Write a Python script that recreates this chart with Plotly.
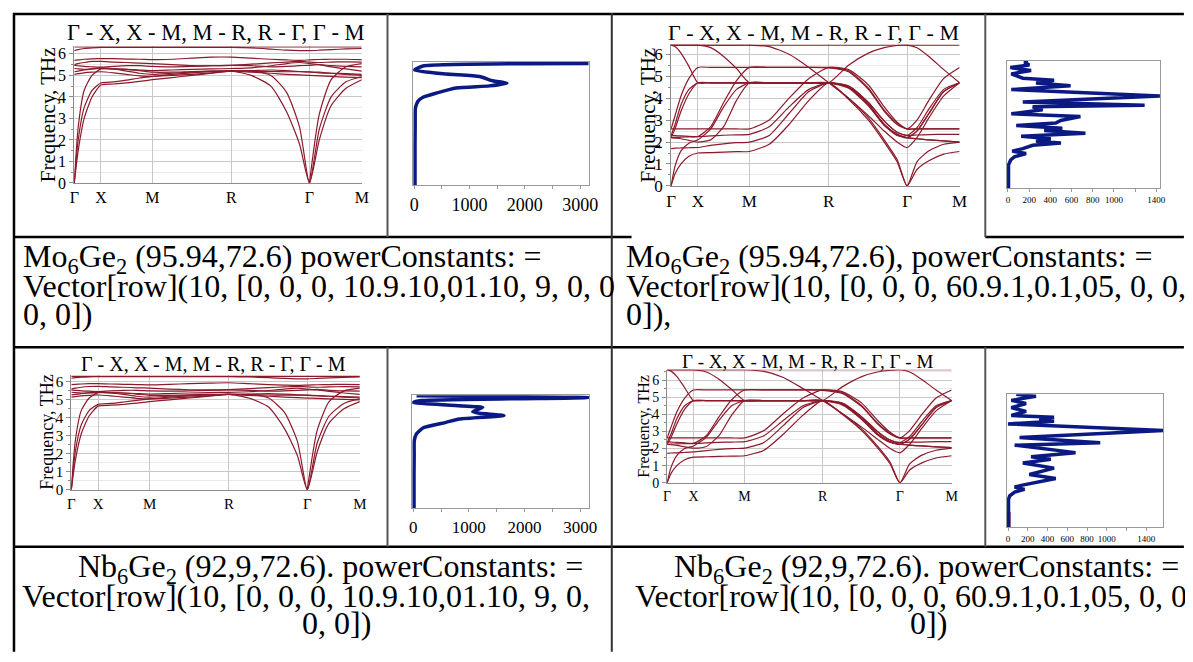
import plotly.graph_objects as go

W, H = 1193, 662          # browser window
OFF = 8                   # default page margin around the figure
FW, FH = W - 2 * OFF, H - 2 * OFF
FONT = "Liberation Serif"
BAND_COLOR = "#8b1a2b"
DOS_COLOR = "#0b1a82"

# ---------------- path (high-symmetry points) ----------------
PATH = [0, 4, 10, 18, 27, 40, 53, 66, 79, 99, 119, 139, 159, 179, 199, 215, 228, 238, 248, 260, 275, 291]
SYM_POS = [0, 27, 79, 159, 238, 291]
SYM_LABELS = ["Γ", "X", "M", "R", "Γ", "M"]
TITLE = "Γ - X, X - M, M - R, R - Γ, Γ - M"
YTITLE = "Frequency, THz"

# ---------------- panel A: Mo6Ge2, powerConstants 1 ----------------
A_TA1 = [0, 1.5, 3.0, 4.0, 4.55, 4.6, 4.65, 4.72, 4.8, 4.9, 5.0, 5.1, 5.2, 5.0, 4.5, 3.3, 1.8, 0, 2.0, 3.6, 4.4, 4.8]
A_TA2 = [0, 2.0, 3.5, 4.3, 4.65, 4.7, 4.78, 4.88, 4.95, 5.05, 5.12, 5.17, 5.2, 5.2, 5.0, 4.2, 2.6, 0, 2.5, 4.0, 4.7, 4.95]
A_LA = [0, 2.6, 4.3, 5.0, 5.3, 5.3, 5.28, 5.22, 5.15, 5.15, 5.18, 5.2, 5.2, 5.22, 5.25, 5.22, 5.18, 5.15, 5.12, 5.1, 5.08, 5.05]
A_LA2 = [None, None, None, None, None, None, None, None, None, None, None, None, None, None, None, None, None, 0, 3.2, 4.8, 5.4, 5.55]
A_O1 = [6.32, 6.32, 6.32, 6.32, 6.32, 6.32, 6.32, 6.32, 6.32, 6.32, 6.32, 6.32, 6.32, 6.32, 6.32, 6.32, 6.32, 6.32, 6.32, 6.32, 6.32, 6.32]
A_O2 = [6.15, 6.2, 6.25, 6.28, 6.3, 6.3, 6.3, 6.3, 6.3, 6.3, 6.3, 6.3, 6.3, 6.28, 6.22, 6.17, 6.15, 6.15, 6.17, 6.2, 6.23, 6.25]
A_O3 = [5.7, 5.72, 5.75, 5.77, 5.78, 5.78, 5.76, 5.75, 5.73, 5.75, 5.8, 5.85, 5.85, 5.8, 5.75, 5.72, 5.7, 5.72, 5.74, 5.75, 5.75, 5.73]
A_O4 = [5.5, 5.55, 5.6, 5.65, 5.65, 5.62, 5.6, 5.57, 5.55, 5.5, 5.45, 5.45, 5.47, 5.52, 5.58, 5.62, 5.65, 5.62, 5.6, 5.62, 5.63, 5.62]
A_O5 = [5.47, 5.45, 5.42, 5.4, 5.38, 5.42, 5.45, 5.45, 5.42, 5.4, 5.42, 5.45, 5.47, 5.45, 5.4, 5.42, 5.45, 5.47, 5.5, 5.45, 5.42, 5.4]
A_O6 = [5.32, 5.3, 5.28, 5.3, 5.32, 5.3, 5.28, 5.25, 5.22, 5.25, 5.28, 5.3, 5.32, 5.35, 5.45, 5.55, 5.6, 5.55, 5.5, 5.4, 5.3, 5.2]
A_O7 = [5.17, 5.2, 5.25, 5.3, 5.35, 5.3, 5.2, 5.1, 5.05, 5.1, 5.15, 5.2, 5.22, 5.2, 5.18, 5.17, 5.17, 5.17, 5.15, 5.1, 5.05, 5.0]
A_O8 = [5.05, 5.08, 5.12, 5.15, 5.17, 5.12, 5.05, 4.98, 4.95, 5.0, 5.05, 5.12, 5.2, 5.15, 5.1, 5.05, 5.02, 5.0, 4.98, 4.95, 4.92, 4.9]

# ---------------- panel B: Nb6Ge2, powerConstants 1 ----------------
B_TA1 = [0, 1.6, 3.1, 4.1, 4.65, 4.7, 4.75, 4.82, 4.9, 5.0, 5.1, 5.2, 5.3, 5.1, 4.6, 3.4, 1.9, 0, 2.1, 3.7, 4.5, 4.9]
B_TA2 = [0, 2.1, 3.6, 4.4, 4.75, 4.8, 4.88, 4.97, 5.05, 5.15, 5.22, 5.27, 5.3, 5.3, 5.1, 4.3, 2.7, 0, 2.6, 4.1, 4.8, 5.05]
B_LA = [0, 2.7, 4.4, 5.1, 5.4, 5.4, 5.38, 5.32, 5.25, 5.25, 5.28, 5.3, 5.3, 5.32, 5.35, 5.32, 5.28, 5.25, 5.22, 5.2, 5.18, 5.15]
B_LA2 = [None, None, None, None, None, None, None, None, None, None, None, None, None, None, None, None, None, 0, 3.3, 4.9, 5.5, 5.65]
B_O1 = [6.3, 6.3, 6.3, 6.3, 6.3, 6.3, 6.3, 6.3, 6.3, 6.3, 6.3, 6.3, 6.3, 6.3, 6.3, 6.3, 6.3, 6.3, 6.3, 6.3, 6.3, 6.3]
B_O2 = [6.2, 6.23, 6.26, 6.28, 6.29, 6.29, 6.29, 6.29, 6.29, 6.29, 6.29, 6.29, 6.29, 6.27, 6.23, 6.19, 6.17, 6.17, 6.19, 6.22, 6.25, 6.27]
B_O3 = [5.85, 5.86, 5.88, 5.9, 5.9, 5.88, 5.86, 5.85, 5.83, 5.86, 5.9, 5.93, 5.95, 5.9, 5.85, 5.82, 5.8, 5.82, 5.84, 5.85, 5.86, 5.85]
B_O4 = [5.6, 5.65, 5.7, 5.74, 5.75, 5.72, 5.7, 5.67, 5.65, 5.6, 5.56, 5.55, 5.57, 5.62, 5.68, 5.72, 5.75, 5.72, 5.7, 5.72, 5.73, 5.72]
B_O5 = [5.55, 5.53, 5.5, 5.48, 5.46, 5.5, 5.53, 5.53, 5.5, 5.48, 5.5, 5.53, 5.55, 5.53, 5.48, 5.5, 5.53, 5.55, 5.58, 5.53, 5.5, 5.48]
B_O6 = [5.42, 5.4, 5.38, 5.4, 5.42, 5.4, 5.38, 5.35, 5.32, 5.35, 5.38, 5.4, 5.42, 5.45, 5.52, 5.6, 5.65, 5.6, 5.55, 5.47, 5.38, 5.3]
B_O7 = [5.28, 5.3, 5.34, 5.38, 5.42, 5.38, 5.3, 5.2, 5.15, 5.2, 5.25, 5.28, 5.3, 5.28, 5.27, 5.26, 5.26, 5.26, 5.24, 5.2, 5.15, 5.1]
B_O8 = [5.15, 5.18, 5.22, 5.25, 5.27, 5.22, 5.15, 5.08, 5.05, 5.1, 5.15, 5.22, 5.3, 5.25, 5.2, 5.15, 5.12, 5.1, 5.08, 5.05, 5.02, 5.0]

# ---------------- panel C: Mo6Ge2, powerConstants 2 ----------------
C1 = [6.42, 6.42, 6.42, 6.42, 6.42, 6.42, 6.42, 6.42, 6.42, 6.42, 6.42, 6.42, 6.42, 6.42, 6.42, 6.42, 6.42, 6.42, 6.42, 6.42, 6.42, 6.42]
C2 = [6.42, 6.35, 6.05, 5.45, 4.7, 4.7, 4.7, 4.7, 4.7, 4.7, 4.7, 4.7, 4.7, 5.5, 6.05, 6.3, 6.4, 6.42, 6.3, 5.9, 5.3, 4.7]
C3 = [6.42, 6.42, 6.42, 6.42, 6.42, 6.3, 5.9, 5.35, 4.7, 4.7, 4.7, 4.7, 4.7, 4.5, 3.7, 2.8, 2.35, 2.2, 2.5, 3.3, 4.3, 4.7]
C4 = [2.3, 2.8, 3.7, 4.4, 4.7, 4.7, 4.7, 4.7, 4.7, 4.7, 4.7, 4.7, 4.7, 4.55, 3.8, 2.95, 2.45, 2.3, 2.65, 3.5, 4.4, 4.7]
C5 = [6.42, 6.42, 6.42, 6.42, 6.42, 6.42, 6.42, 6.42, 6.42, 6.35, 6.0, 5.4, 4.7, 4.0, 3.2, 2.5, 2.0, 1.75, 2.2, 3.1, 4.1, 4.7]
C6 = [0, 0.55, 1.0, 1.35, 1.5, 1.52, 1.54, 1.56, 1.57, 1.9, 2.8, 3.9, 4.7, 3.95, 3.0, 2.0, 1.1, 0, 0.75, 1.15, 1.45, 1.57]
C7 = [0, 0.9, 1.6, 1.95, 2.1, 2.6, 3.6, 4.4, 4.7, 4.7, 4.7, 4.7, 4.7, 4.45, 3.65, 2.75, 2.3, 2.2, 2.15, 2.1, 2.05, 2.0]
C8 = [1.7, 1.72, 1.73, 1.74, 1.75, 1.85, 1.92, 1.97, 2.0, 2.3, 3.3, 4.3, 4.7, 4.55, 3.8, 2.95, 2.45, 2.3, 2.32, 2.34, 2.35, 2.35]
C9 = [2.2, 2.18, 2.15, 2.08, 2.0, 2.1, 2.7, 3.9, 4.7, 4.7, 4.7, 4.7, 4.7, 4.0, 3.1, 2.1, 1.2, 0, 1.1, 1.6, 1.9, 2.0]
C10 = [2.6, 3.2, 4.1, 4.9, 5.4, 5.4, 5.4, 5.4, 5.4, 5.4, 5.4, 5.4, 5.38, 5.2, 4.4, 3.4, 2.8, 2.6, 3.0, 3.9, 4.9, 5.4]
C11 = [2.6, 2.6, 2.6, 2.6, 2.6, 2.6, 2.6, 2.6, 2.6, 3.0, 4.0, 4.9, 5.4, 5.3, 4.6, 3.6, 2.9, 2.6, 2.6, 2.6, 2.6, 2.6]
C12 = [2.2, 2.6, 3.4, 4.2, 4.7, 4.7, 4.7, 4.7, 4.7, 4.7, 4.7, 4.7, 4.7, 4.5, 3.7, 2.8, 2.35, 2.2, 2.5, 3.3, 4.3, 4.7]
C13 = [2.3, 2.29, 2.28, 2.26, 2.25, 2.28, 2.31, 2.33, 2.35, 2.7, 3.6, 4.4, 4.7, 4.5, 3.7, 2.8, 2.35, 2.2, 2.15, 2.1, 2.05, 2.0]
C14 = [2.2, 2.21, 2.22, 2.24, 2.25, 2.7, 3.8, 4.8, 5.4, 5.4, 5.4, 5.4, 5.4, 5.25, 4.45, 3.45, 2.85, 2.6, 2.6, 2.6, 2.6, 2.6]

# ---------------- panel D: Nb6Ge2, powerConstants 2 ----------------
D1 = [6.6, 6.6, 6.6, 6.6, 6.6, 6.6, 6.6, 6.6, 6.6, 6.6, 6.6, 6.6, 6.6, 6.6, 6.6, 6.6, 6.6, 6.6, 6.6, 6.6, 6.6, 6.6]
D2 = [6.6, 6.52, 6.2, 5.55, 4.8, 4.8, 4.8, 4.8, 4.8, 4.8, 4.8, 4.8, 4.8, 5.6, 6.2, 6.47, 6.57, 6.6, 6.47, 6.05, 5.42, 4.8]
D3 = [6.6, 6.6, 6.6, 6.6, 6.6, 6.47, 6.05, 5.45, 4.8, 4.8, 4.8, 4.8, 4.8, 4.6, 3.75, 2.85, 2.4, 2.25, 2.55, 3.35, 4.4, 4.8]
D4 = [2.35, 2.85, 3.75, 4.5, 4.8, 4.8, 4.8, 4.8, 4.8, 4.8, 4.8, 4.8, 4.8, 4.65, 3.85, 3.0, 2.5, 2.35, 2.7, 3.55, 4.5, 4.8]
D5 = [6.6, 6.6, 6.6, 6.6, 6.6, 6.6, 6.6, 6.6, 6.6, 6.5, 6.15, 5.5, 4.8, 4.05, 3.25, 2.55, 2.0, 1.75, 2.25, 3.15, 4.2, 4.8]
D6 = [0, 0.55, 1.0, 1.35, 1.5, 1.52, 1.54, 1.56, 1.58, 1.9, 2.85, 3.95, 4.8, 4.0, 3.05, 2.05, 1.1, 0, 0.75, 1.15, 1.45, 1.58]
D7 = [0, 0.9, 1.6, 2.0, 2.15, 2.65, 3.65, 4.5, 4.8, 4.8, 4.8, 4.8, 4.8, 4.55, 3.7, 2.8, 2.35, 2.25, 2.2, 2.15, 2.1, 2.05]
D8 = [1.72, 1.74, 1.75, 1.77, 1.8, 1.88, 1.95, 2.0, 2.02, 2.35, 3.35, 4.4, 4.8, 4.65, 3.85, 3.0, 2.5, 2.35, 2.37, 2.38, 2.4, 2.4]
D9 = [2.25, 2.22, 2.18, 2.1, 2.02, 2.12, 2.75, 3.95, 4.8, 4.8, 4.8, 4.8, 4.8, 4.05, 3.15, 2.15, 1.2, 0, 1.1, 1.6, 1.9, 2.02]
D10 = [2.62, 3.25, 4.15, 4.95, 5.42, 5.42, 5.42, 5.42, 5.42, 5.42, 5.42, 5.42, 5.4, 5.22, 4.45, 3.45, 2.85, 2.62, 3.05, 3.95, 4.95, 5.42]
D11 = [2.62, 2.62, 2.62, 2.62, 2.62, 2.62, 2.62, 2.62, 2.62, 3.05, 4.05, 4.95, 5.42, 5.32, 4.65, 3.65, 2.95, 2.62, 2.62, 2.62, 2.62, 2.62]
D12 = [2.25, 2.65, 3.45, 4.3, 4.8, 4.8, 4.8, 4.8, 4.8, 4.8, 4.8, 4.8, 4.8, 4.6, 3.75, 2.85, 2.4, 2.25, 2.55, 3.35, 4.4, 4.8]
D13 = [2.4, 2.38, 2.36, 2.33, 2.3, 2.33, 2.36, 2.38, 2.4, 2.75, 3.65, 4.5, 4.8, 4.6, 3.75, 2.85, 2.4, 2.25, 2.2, 2.15, 2.1, 2.05]
D14 = [2.25, 2.26, 2.27, 2.29, 2.3, 2.75, 3.85, 4.85, 5.42, 5.42, 5.42, 5.42, 5.42, 5.27, 4.5, 3.5, 2.9, 2.62, 2.62, 2.62, 2.62, 2.62]

# ---------------- phonon DOS (frequency THz, states) ----------------
DOS_A_F = [0, 1.0, 2.0, 3.0, 3.87, 4.04, 4.3, 4.5, 4.71, 4.97, 5.08, 5.22, 5.34, 5.56, 5.69, 5.89, 6.1, 6.23]
DOS_A_V = [15, 15, 15, 18, 20, 30, 70, 160, 400, 760, 1360, 1675, 1420, 1180, 580, 0, 160, 3150]
DOS_B_F = [0, 1.0, 2.0, 3.0, 3.85, 4.22, 4.56, 4.87, 5.06, 5.25, 5.38, 5.47, 5.71, 5.8, 5.99, 6.1, 6.27, 6.37]
DOS_B_V = [15, 15, 15, 18, 20, 60, 180, 590, 830, 1630, 1190, 1070, 1250, 890, 0, 150, 3150, 60]
DOS_C_F = [0, 1.17, 1.42, 1.58, 1.75, 1.87, 2.0, 2.17, 2.28, 2.37, 2.5, 2.63, 2.78, 2.92, 3.03, 3.17, 3.3, 3.43,
           3.63, 3.77, 3.97, 4.13, 4.2, 4.37, 4.67, 5.0, 5.2, 5.33, 5.47, 5.58, 5.8, 5.97, 6.12, 6.25, 6.37, 6.45]
DOS_C_V = [5, 5, 25, 60, 171, 40, 140, 233, 500, 265, 404, 124, 731, 342, 513, 78, 451, 498,
           684, 31, 327, 233, 1290, 140, 1434, 31, 591, 265, 435, 140, 31, 218, 22, 202, 155, 187]
DOS_D_F = [0, 1.38, 1.55, 1.74, 1.87, 1.99, 2.07, 2.2, 2.41, 2.61, 2.93, 3.18, 3.37, 3.5, 3.7, 4.07, 4.19, 4.45,
           4.8, 5.13, 5.26, 5.36, 5.46, 5.55, 5.75, 5.94, 6.14, 6.3, 6.5, 6.6]
DOS_D_V = [5, 5, 17, 67, 167, 67, 133, 266, 483, 216, 466, 150, 433, 233, 683, 67, 933, 117,
           1573, 0, 466, 316, 466, 33, 183, 33, 183, 33, 283, 83]
DOS_D_LOW_F = [0, 0.75]
DOS_D_LOW_V = [0, 0]

# ---------------- caption texts ----------------
TEXT_R1_L = ["Mo<sub>6</sub>Ge<sub>2</sub> (95.94,72.6) powerConstants: =",
             "Vector[row](10, [0, 0, 0, 10.9.10,01.10, 9, 0, 0",
             "0, 0])"]
TEXT_R1_R = ["Mo<sub>6</sub>Ge<sub>2</sub> (95.94,72.6), powerConstants: =",
             "Vector[row](10, [0, 0, 0, 60.9.1,0.1,05, 0, 0,",
             "0]),"]
TEXT_R2_L = ["Nb<sub>6</sub>Ge<sub>2</sub> (92,9,72.6). powerConstants: =",
             "Vector[row](10, [0, 0, 0, 10.9.10,01.10, 9, 0,",
             "0, 0])"]
TEXT_R2_R = ["Nb<sub>6</sub>Ge<sub>2</sub> (92,9,72.6). powerConstants: =",
             "Vector[row](10, [0, 0, 0, 60.9.1,0.1,05, 0, 0,",
             "0])"]


# page pixel -> figure paper coordinates
def px_x(v):
    return (v - OFF) / FW


def px_y(v):
    return 1 - (v - OFF) / FH


def xd(a, b):
    return [px_x(a), px_x(b)]


def yd(top, bottom):
    return [px_y(bottom), px_y(top)]


fig = go.Figure()
layout = dict(width=FW, height=FH, margin=dict(l=0, r=0, t=0, b=0),
              paper_bgcolor="white", plot_bgcolor="white", showlegend=False)
annotations = []
shapes = []

band_panels = [
    # (axis idx, branches, x px, y px, ymax, tick font, title y, title font, ytitle x, ytitle font)
    (1, [A_TA1, A_TA2, A_LA, A_LA2, A_O1, A_O2, A_O3, A_O4, A_O5, A_O6, A_O7, A_O8],
     (70, 361), (46, 185), 6.35, 16, 32, 22.5, 43, 21),
    (3, [C1, C2, C3, C4, C5, C6, C7, C8, C9, C10, C11, C12, C13, C14],
     (674, 966), (44, 188), 6.45, 17, 32, 22, 651, 21),
    (5, [B_TA1, B_TA2, B_LA, B_LA2, B_O1, B_O2, B_O3, B_O4, B_O5, B_O6, B_O7, B_O8],
     (67, 359), (380, 497), 6.4, 15, 369, 20, 43, 18),
    (7, [D1, D2, D3, D4, D5, D6, D7, D8, D9, D10, D11, D12, D13, D14],
     (670, 958), (375, 490), 6.6, 14, 367, 19, 647, 16),
]

for idx, branches, xpx, ypx, ymax, tfs, ty, tf, ytx, ytf in band_panels:
    for br in branches:
        fig.add_trace(go.Scatter(x=PATH, y=br, mode="lines",
                                 line=dict(color=BAND_COLOR, width=1.2, shape="spline", smoothing=0.6),
                                 connectgaps=False, hoverinfo="skip",
                                 xaxis=f"x{idx}", yaxis=f"y{idx}"))
    layout[f"xaxis{idx}"] = dict(domain=xd(*xpx), anchor=f"y{idx}", range=[0, 291],
                                 tickvals=SYM_POS, ticktext=SYM_LABELS, ticks="",
                                 showgrid=True, gridcolor="#c8c8c8", gridwidth=1,
                                 showline=True, linecolor="#8c8c8c", linewidth=1, zeroline=False,
                                 tickfont=dict(family=FONT, size=tfs, color="black"))
    layout[f"yaxis{idx}"] = dict(domain=yd(*ypx), anchor=f"x{idx}", range=[0, ymax],
                                 tick0=0, dtick=1, ticks="outside", ticklen=4, tickcolor="#8c8c8c",
                                 showgrid=True, gridcolor="#c8c8c8", gridwidth=1,
                                 minor=dict(dtick=0.5, showgrid=True, gridcolor="#e9e9e9",
                                            ticks="outside", ticklen=2, tickcolor="#8c8c8c"),
                                 showline=True, linecolor="#8c8c8c", linewidth=1, zeroline=False,
                                 tickfont=dict(family=FONT, size=tfs, color="black"))
    annotations.append(dict(text=TITLE, x=px_x((xpx[0] + xpx[1]) / 2 - 2), y=px_y(ty),
                            xref="paper", yref="paper", showarrow=False,
                            xanchor="center", yanchor="middle",
                            font=dict(family=FONT, size=tf, color="black")))
    annotations.append(dict(text=YTITLE, x=px_x(ytx), y=px_y((ypx[0] + ypx[1]) / 2),
                            xref="paper", yref="paper", showarrow=False, textangle=-90,
                            xanchor="center", yanchor="middle",
                            font=dict(family=FONT, size=ytf, color="black")))

dos_panels = [
    (2, DOS_A_F, DOS_A_V, (413, 591), (62, 187), [-18, 3160], 6.3,
     [0, 1000, 2000, 3000], [500, 1500, 2500], 18, "spline"),
    (6, DOS_B_F, DOS_B_V, (412, 591), (401, 516), [-18, 3160], 6.4,
     [0, 1000, 2000, 3000], [500, 1500, 2500], 17, "spline"),
    (4, DOS_C_F, DOS_C_V, (1014, 1169), (61, 190), [-9, 1437], 6.45,
     [0, 200, 400, 600, 800, 1000, 1400], [1200], 9, "linear"),
    (8, DOS_D_F, DOS_D_V, (1014, 1172), (400, 535), [-10, 1570], 6.6,
     [0, 200, 400, 600, 800, 1000, 1400], [1200], 9, "linear"),
]

for idx, fr, vals, xpx, ypx, xr, ymax, tv, mtv, fs, shp in dos_panels:
    if idx == 8:
        fig.add_trace(go.Scatter(x=DOS_D_LOW_V, y=DOS_D_LOW_F, mode="lines",
                                 line=dict(color="#7a0a14", width=5), hoverinfo="skip",
                                 xaxis=f"x{idx}", yaxis=f"y{idx}"))
    fig.add_trace(go.Scatter(x=vals, y=fr, mode="lines",
                             line=dict(color=DOS_COLOR, width=3.5, shape=shp, smoothing=0.5),
                             hoverinfo="skip", xaxis=f"x{idx}", yaxis=f"y{idx}"))
    layout[f"xaxis{idx}"] = dict(domain=xd(*xpx), anchor=f"y{idx}", range=xr,
                                 tickmode="array", tickvals=tv, ticks="outside", ticklen=3,
                                 tickcolor="#9a9a9a", showgrid=False, zeroline=False,
                                 minor=dict(tickmode="array", tickvals=mtv, ticks="outside",
                                            ticklen=3, tickcolor="#9a9a9a", showgrid=False),
                                 showline=True, mirror=True, linecolor="#9a9a9a", linewidth=1,
                                 tickfont=dict(family=FONT, size=fs, color="black"))
    layout[f"yaxis{idx}"] = dict(domain=yd(*ypx), anchor=f"x{idx}", range=[0, ymax],
                                 showticklabels=False, ticks="", showgrid=False, zeroline=False,
                                 showline=True, mirror=True, linecolor="#9a9a9a", linewidth=1)


def hline(y, x0, x1, color="black", w=2.5):
    shapes.append(dict(type="line", xref="paper", yref="paper",
                       x0=px_x(x0), x1=px_x(x1), y0=px_y(y), y1=px_y(y),
                       line=dict(color=color, width=w)))


def vline(x, y0, y1, color="black", w=2.5):
    shapes.append(dict(type="line", xref="paper", yref="paper",
                       x0=px_x(x), x1=px_x(x), y0=px_y(y0), y1=px_y(y1),
                       line=dict(color=color, width=w)))


# table grid
hline(13, 8, 1193)
hline(240, 8, 634)
hline(240, 992, 1193)
hline(352, 8, 1193)
hline(555, 8, 1193)
vline(9, 12, 662)
vline(614, 12, 662, color="#333333", w=2)
vline(387, 13, 240, color="#555555", w=2)
vline(387, 352, 555, color="#555555", w=2)
vline(992, 13, 240, color="#555555", w=2)
vline(992, 352, 555, color="#555555", w=2)

TFS = 32


def text_line(t, x, y, anchor):
    annotations.append(dict(text=t, x=px_x(x), y=px_y(y), xref="paper", yref="paper",
                            showarrow=False, xanchor=anchor, yanchor="middle",
                            font=dict(family=FONT, size=TFS, color="black")))


for i, t in enumerate(TEXT_R1_L):
    text_line(t, 16, 262 + 28 * i, "left")
for i, t in enumerate(TEXT_R1_R):
    text_line(t, 626, 262 + 28 * i, "left")
text_line(TEXT_R2_L[0], 329, 577, "center")
text_line(TEXT_R2_L[1], 15, 605, "left")
text_line(TEXT_R2_L[2], 335, 633, "center")
text_line(TEXT_R2_R[0], 932, 577, "center")
text_line(TEXT_R2_R[1], 635, 605, "left")
text_line(TEXT_R2_R[2], 935, 633, "center")

layout["annotations"] = annotations
layout["shapes"] = shapes
fig.update_layout(**layout)
fig.write_html("out.html", config={"displayModeBar": False})
